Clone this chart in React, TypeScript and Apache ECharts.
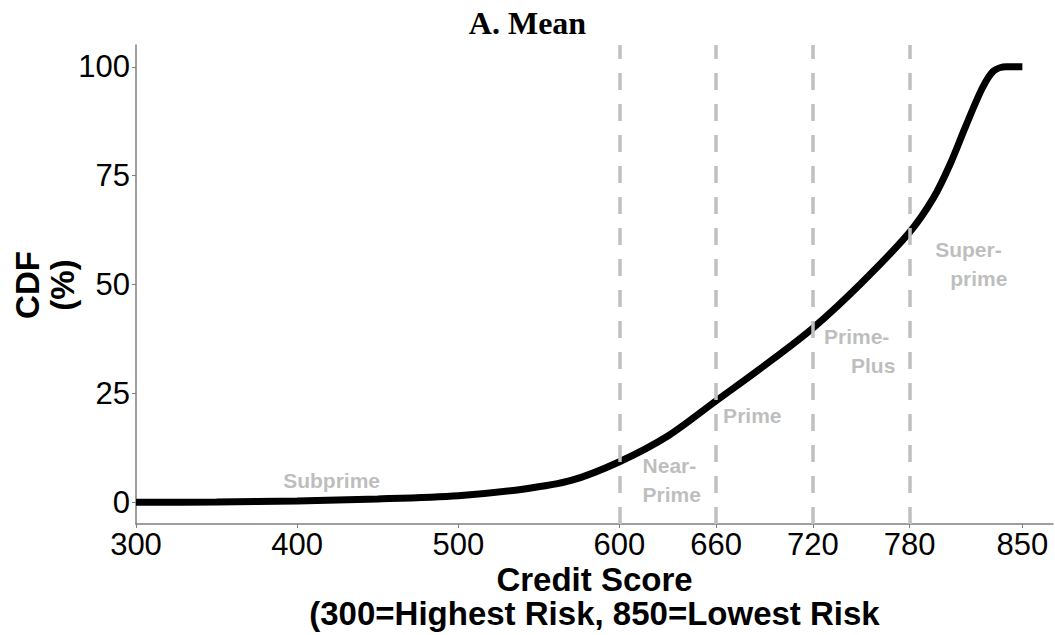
import React, { useEffect, useRef } from "react";
import * as echarts from "echarts";

// Credit score grid and mean CDF (%)
const scores = [300, 350, 400, 450, 500, 540, 570, 600, 630, 660, 690, 720, 750, 780, 795, 805, 815, 825, 832, 840, 850];
const cdfValues = [0, 0.05, 0.3, 0.75, 1.5, 3.0, 5.0, 9.3, 15.2, 23.3, 31.4, 40.0, 50.3, 62.0, 70.0, 77.5, 86.5, 95.0, 99.0, 100, 100];

// Score band cut-offs (dashed lines)
const cutoffs = [600, 660, 720, 780];

// Tick labels
const xTicks = [300, 400, 500, 600, 660, 720, 780, 850];
const yTicks = [0, 25, 50, 75, 100];

// Band labels (text lines and their anchor in data units)
const bandNames = ["Subprime", "Near-Prime", "Prime", "Prime-Plus", "Super-prime"];
const bandLines = [["Subprime"], ["Near-", "Prime"], ["Prime"], ["Prime-", "Plus"], ["Super-", "prime"]];
const bandX = [391, 614, 664, 726.6, 795.6];
const bandY = [5, 5, 19.9, 34.8, 54.7];

// second-line indent style key (style only)
const secondIndent: Record<string, string> = { "Prime-Plus": "c", "Super-prime": "b", "Near-Prime": "a" };

const SANS = '"Liberation Sans", Arial, Helvetica, sans-serif';

export default function App() {
  const ref = useRef<HTMLDivElement>(null);
  useEffect(() => {
    document.body.style.margin = "0";
    const chart = echarts.init(ref.current!, null, { renderer: "svg" });
    const curve = scores.map((s, i) => [s, cdfValues[i]]);
    const bandData = bandNames.map((n, i) => ({ name: n, value: [bandX[i], bandY[i]] }));
    const labelBase = { color: "#adadad", fontFamily: SANS, fontWeight: "bold", fontSize: 21, lineHeight: 29 };
    const option: any = {
      animation: false,
      backgroundColor: "#ffffff",
      title: {
        text: "A. Mean",
        left: "center",
        top: 2,
        textStyle: { fontFamily: '"Liberation Serif", "DejaVu Serif", serif', fontWeight: "bold", fontSize: 32, color: "#000" },
      },
      grid: { left: 136, right: 2, top: 45, bottom: 111 },
      xAxis: {
        type: "value",
        min: 300,
        max: 869,
        axisLine: { show: true, onZero: false, lineStyle: { color: "#7f7f7f", width: 1.5 } },
        axisTick: { show: true, customValues: xTicks, length: 4, lineStyle: { color: "#7f7f7f", width: 1 } },
        axisLabel: { customValues: xTicks, fontSize: 31, color: "#000", fontFamily: SANS, margin: 5 },
        splitLine: { show: false },
      },
      yAxis: {
        type: "value",
        min: -5,
        max: 105,
        axisLine: { show: true, onZero: false, lineStyle: { color: "#7f7f7f", width: 1.5 } },
        axisTick: { show: true, customValues: yTicks, length: 4, lineStyle: { color: "#7f7f7f", width: 1 } },
        axisLabel: { customValues: yTicks, fontSize: 31, color: "#000", fontFamily: SANS, margin: 6 },
        splitLine: { show: false },
      },
      series: [
        {
          type: "line",
          data: curve,
          showSymbol: false,
          smooth: 0.3,
          lineStyle: { color: "#000", width: 7 },
          z: 2,
        },
        {
          type: "line",
          data: [],
          z: 3,
          markLine: {
            silent: true,
            symbol: ["none", "none"],
            label: { show: false },
            lineStyle: { color: "#c0c0c0", width: 3.5, type: [17, 14] },
            data: cutoffs.map((v) => ({ xAxis: v })),
          },
        },
        {
          type: "scatter",
          data: bandData,
          symbolSize: 1,
          itemStyle: { color: "rgba(0,0,0,0)" },
          z: 4,
          label: {
            show: true,
            position: "right",
            distance: 0,
            align: "left",
            verticalAlign: "middle",
            ...labelBase,
            formatter: (p: any) => {
              const idx = bandNames.indexOf(p.name);
              const lines = bandLines[idx];
              if (lines.length === 1) return `{a|${lines[0]}}`;
              return `{a|${lines[0]}}\n{${secondIndent[p.name]}|${lines[1]}}`;
            },
            rich: {
              a: { ...labelBase },
              b: { ...labelBase, padding: [0, 0, 0, 15] },
              c: { ...labelBase, padding: [0, 0, 0, 27] },
            },
          },
        },
      ],
      graphic: [
        {
          type: "text",
          x: 45,
          y: 285,
          rotation: Math.PI / 2,
          style: {
            text: "CDF\n(%)",
            fontFamily: SANS,
            fontWeight: "bold",
            fontSize: 33,
            lineHeight: 35,
            align: "center",
            verticalAlign: "middle",
            fill: "#000",
          },
        },
        {
          type: "text",
          x: 594.5,
          y: 596,
          style: {
            text: "Credit Score\n(300=Highest Risk, 850=Lowest Risk",
            fontFamily: SANS,
            fontWeight: "bold",
            fontSize: 33,
            lineHeight: 34,
            align: "center",
            verticalAlign: "middle",
            fill: "#000",
          },
        },
      ],
    };
    chart.setOption(option);
    return () => chart.dispose();
  }, []);
  return <div ref={ref} style={{ width: 1055, height: 635 }} />;
}
